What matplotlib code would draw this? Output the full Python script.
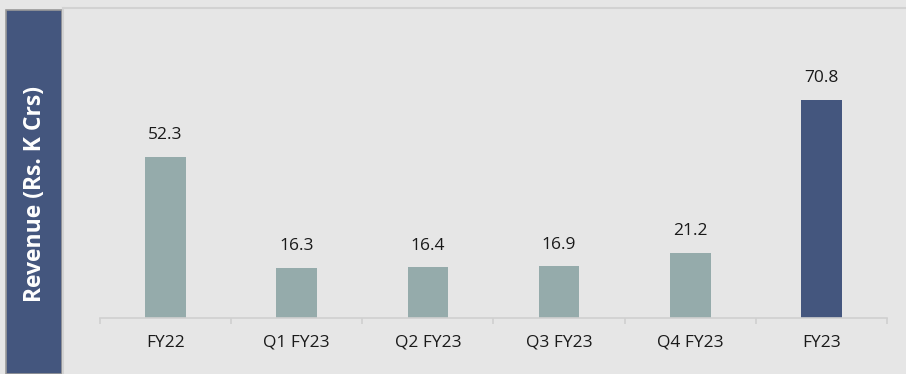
import matplotlib

matplotlib.use('Agg')
import matplotlib.pyplot as plt
from matplotlib.patches import Rectangle
from matplotlib.lines import Line2D

categories = ['FY22', 'Q1 FY23', 'Q2 FY23', 'Q3 FY23', 'Q4 FY23', 'FY23']
revenue = [52.3, 16.3, 16.4, 16.9, 21.2, 70.8]
value_labels = ['52.3', '16.3', '16.4', '16.9', '21.2', '70.8']
y_title = 'Revenue (Rs. K Crs)'

bg = '#e6e6e6'
bar_light = '#95abab'
bar_dark = '#44567e'

plt.rcParams['font.family'] = ['Open Sans', 'DejaVu Sans']

fig = plt.figure(figsize=(9.06, 3.74), dpi=100)
fig.patch.set_facecolor(bg)

W, H = 906, 374

# panel border around the plot area
fig.add_artist(Line2D([63 / W, 1], [1 - 8 / H, 1 - 8 / H], color='#d2d2d2', lw=1.5))
fig.add_artist(Line2D([63 / W, 63 / W], [0, 1 - 8 / H], color='#d2d2d2', lw=1.5))

# dark side band holding the axis title
fig.add_artist(Rectangle((6 / W, 0), 56 / W, 1 - 10 / H, facecolor=bar_dark,
                         edgecolor='#9a9a9a', lw=1.2))
fig.text(35 / W, 1 - 194 / H, y_title, rotation=90, color='white', fontsize=16.5,
         fontweight='bold', ha='center', va='center')

ax = fig.add_axes([100 / W, (H - 318) / H, 787 / W, 293 / H])
ax.set_facecolor(bg)

x = range(len(categories))
colors = [bar_light] * (len(categories) - 1) + [bar_dark]
bars = ax.bar(x, revenue, width=0.31, color=colors)

for b, lab in zip(bars, value_labels):
    ax.annotate(lab, (b.get_x() + b.get_width() / 2, b.get_height()),
                xytext=(0, 12.5), textcoords='offset points',
                ha='center', va='baseline', fontsize=12.5, color='#1a1a1a')

ax.set_xlim(-0.5, len(categories) - 0.5)
ax.set_ylim(0, 95)
ax.set_yticks([])
ax.set_xticks(x)
ax.set_xticklabels(categories, fontsize=12.5, color='#1a1a1a')
ax.set_xticks([i - 0.5 for i in range(len(categories) + 1)], minor=True)
ax.tick_params(axis='x', which='major', length=0, pad=12)
ax.tick_params(axis='x', which='minor', length=4, color='#d0d0d0', width=1.2)

for side in ['top', 'right', 'left']:
    ax.spines[side].set_visible(False)
ax.spines['bottom'].set_color('#d0d0d0')
ax.spines['bottom'].set_linewidth(1.2)

fig.savefig('out.png', dpi=100, facecolor=bg)
